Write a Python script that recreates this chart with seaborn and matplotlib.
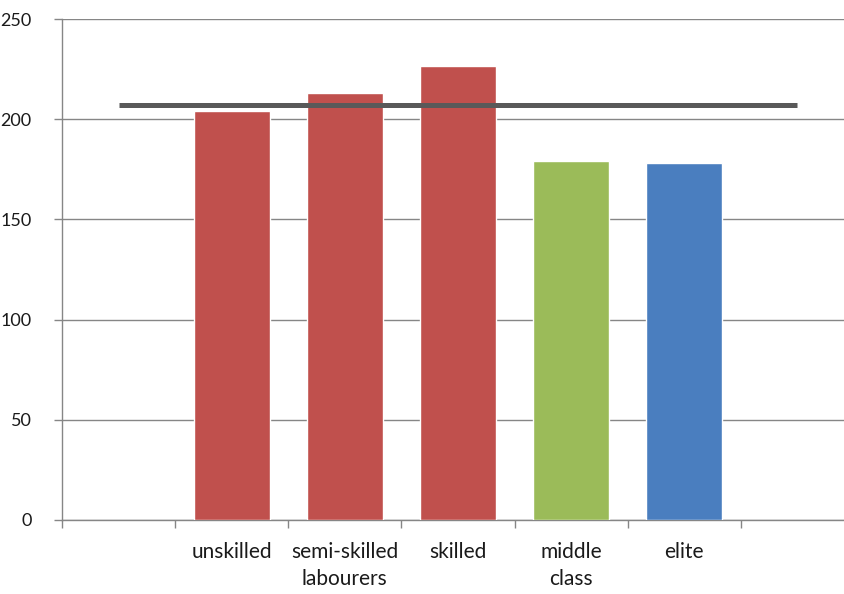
import numpy as np
import pandas as pd
import matplotlib
matplotlib.use("Agg")
import matplotlib.pyplot as plt
import seaborn as sns

# Occupational groups (empty slots pad both ends of the category axis)
categories = ["", "unskilled", "semi-skilled\nlabourers", "skilled", "middle\nclass", "elite", " "]
values = [np.nan, 204, 213, 226.5, 179, 178, np.nan]
bar_colors = ["#C0504D", "#C0504D", "#C0504D", "#C0504D", "#9BBB59", "#4A7EBF", "#4A7EBF"]
average = 207
y_ticks = [0, 50, 100, 150, 200, 250]

sns.set_theme(style="white")
plt.rcParams["font.family"] = ["Lato", "DejaVu Sans"]

df = pd.DataFrame({"group": categories, "value": values})
palette = dict(zip(categories, bar_colors))

W, H = 844, 594
fig = plt.figure(figsize=(W / 100, H / 100), dpi=100)
left, right = 62, 854
bottom, top = 520, 19
ax = fig.add_axes([left / W, (H - bottom) / H, (right - left) / W, (bottom - top) / H])

sns.barplot(data=df, x="group", y="value", hue="group", order=categories,
            palette=palette, width=0.67, legend=False, saturation=1,
            ax=ax, zorder=3)

# Overall average across the occupied slots
ax.plot([0, len(categories) - 1], [average, average], color="#595959",
        lw=3.6, solid_capstyle="butt", zorder=4)

ax.set_xlim(-0.5, len(categories) - 0.5)
ax.set_ylim(0, 250)
ax.set_yticks(y_ticks)
ax.yaxis.grid(True, color="#868686", lw=1)
ax.set_axisbelow(True)

ax.set_xlabel("")
ax.set_ylabel("")
for s in ["top", "right"]:
    ax.spines[s].set_visible(False)
for s in ["left", "bottom"]:
    ax.spines[s].set_color("#868686")
    ax.spines[s].set_linewidth(1)

ax.tick_params(axis="y", left=True, length=6, width=1, color="#868686",
               pad=16, labelsize=13, labelcolor="#1a1a1a")
ax.set_xticks(range(len(categories)))
ax.set_xticklabels(categories, fontsize=15, color="#1a1a1a", linespacing=1.4)
ax.tick_params(axis="x", bottom=False, pad=10)
ax.set_xticks(np.arange(-0.5, len(categories), 1), minor=True)
ax.tick_params(axis="x", which="minor", bottom=True, length=6, width=1, color="#868686")

fig.savefig("out.png", dpi=100, facecolor="white")
